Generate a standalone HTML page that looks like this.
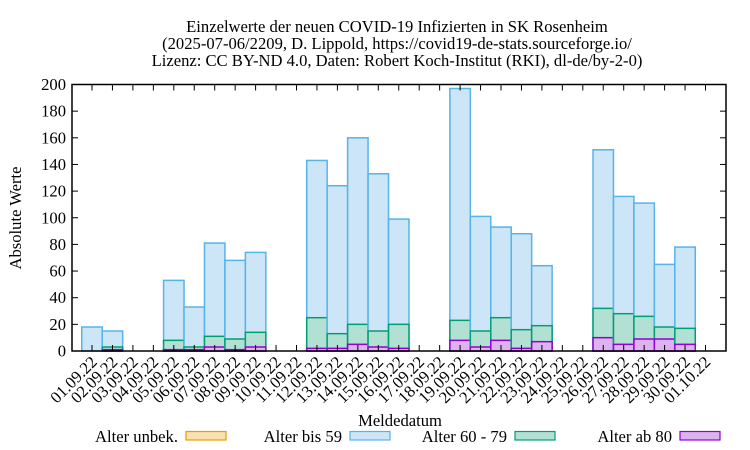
<!DOCTYPE html>
<html><head><meta charset="utf-8"><style>
html,body{margin:0;padding:0;background:#fff}
svg{display:block;font-family:"Liberation Serif",serif;}
</style></head><body>
<svg id="s" width="750" height="450" viewBox="0 0 750 450" xmlns="http://www.w3.org/2000/svg">
<rect width="750" height="450" fill="#fff"/>
<g font-size="16.6" text-anchor="middle" fill="#000">
<text x="397" y="32">Einzelwerte der neuen COVID-19 Infizierten in SK Rosenheim</text>
<text x="397" y="49">(2025-07-06/2209, D. Lippold, https://covid19-de-stats.sourceforge.io/</text>
<text x="397" y="66">Lizenz: CC BY-ND 4.0, Daten: Robert Koch-Institut (RKI), dl-de/by-2-0)</text>
<text x="400" y="426">Meldedatum</text>
<text transform="translate(21,218) rotate(-90)">Absolute Werte</text>
</g>
<g id="bars"></g>
<g id="axes"></g>
<g font-size="16.6" fill="#000" text-anchor="end">
<text x="178" y="442">Alter unbek.</text>
<rect x="186" y="431.5" width="40" height="8.5" fill="#f9e0b0" stroke="#e69f00" stroke-width="1.2"/>
<text x="342" y="442">Alter bis 59</text>
<rect x="350" y="431.5" width="40" height="8.5" fill="#cce6f8" stroke="#56b4e9" stroke-width="1.2"/>
<text x="507" y="442">Alter 60 - 79</text>
<rect x="515" y="431.5" width="40" height="8.5" fill="#b2e0d2" stroke="#009e73" stroke-width="1.2"/>
<text x="672" y="442">Alter ab 80</text>
<rect x="680" y="431.5" width="40" height="8.5" fill="#ddb2f0" stroke="#9400d3" stroke-width="1.2"/>
</g>
</svg>
<script>
var d=[[18,0,0],[15,3,1],[0,0,0],[0,0,0],[53,8,1],[33,3,1],[81,11,3],[68,9,1],[74,14,3],[0,0,0],[0,0,0],
[143,25,2],[124,13,2],[160,20,5],[133,15,3],[99,20,2],[0,0,0],[0,0,0],
[197,23,8],[101,15,3],[93,25,8],[88,16,2],[64,19,7],[0,0,0],[0,0,0],
[151,32,10],[116,28,5],[111,26,9],[65,18,9],[78,17,5],[0,0,0]];
var L=72,R=726,T=84.5,B=351,k=(B-T)/200,x0=92,dx=20.45;
var ns="http://www.w3.org/2000/svg";
function el(p,t,a,txt){var e=document.createElementNS(ns,t);for(var q in a)e.setAttribute(q,a[q]);if(txt!=null)e.textContent=txt;p.appendChild(e);return e;}
var gb=document.getElementById('bars'),ga=document.getElementById('axes');
var cols=[["#cce6f8","#56b4e9"],["#b2e0d2","#009e73"],["#ddb2f0","#9400d3"]];
for(var i=0;i<d.length;i++){var cx=x0+dx*i;for(var j=0;j<3;j++){var v=d[i][j];if(!v)continue;
el(gb,'rect',{x:cx-dx/2,y:B-v*k,width:dx,height:v*k,fill:cols[j][0],stroke:cols[j][1],'stroke-width':1.5});}}
el(ga,'rect',{x:L,y:T,width:R-L,height:B-T,fill:'none',stroke:'#000','stroke-width':1.5});
for(var v=0;v<=200;v+=20){var y=B-v*k;
if(v>0&&v<200){el(ga,'line',{x1:L,y1:y,x2:L+6,y2:y,stroke:'#000'});el(ga,'line',{x1:R,y1:y,x2:R-6,y2:y,stroke:'#000'});}
el(ga,'text',{x:L-6,y:y+5.5,'font-size':16.6,'text-anchor':'end'},String(v));}
for(var i=0;i<31;i++){var x=x0+dx*i;
el(ga,'line',{x1:x,y1:B,x2:x,y2:B-6,stroke:'#000'});el(ga,'line',{x1:x,y1:T,x2:x,y2:T+6,stroke:'#000'});
var dd=(i<30)?(('0'+(i+1)).slice(-2)+'.09.22'):'01.10.22';
el(ga,'text',{x:0,y:0,'font-size':16.6,'text-anchor':'end',transform:'translate('+(x+6)+','+(B+12)+') rotate(-45)'},dd);}
</script>
</body></html>
